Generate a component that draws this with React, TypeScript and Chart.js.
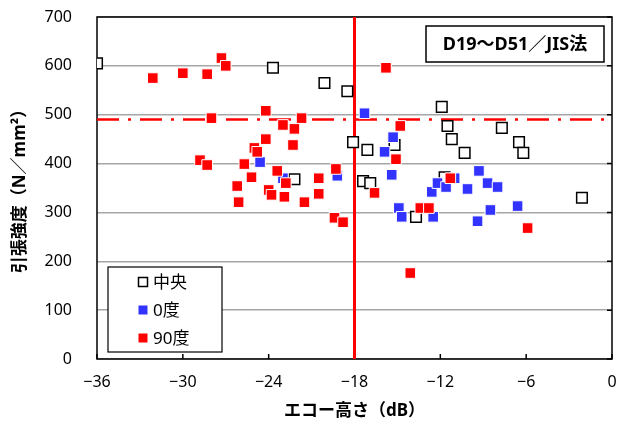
import React, { useEffect, useRef } from 'react';
import { Chart, registerables } from 'chart.js';

Chart.register(...registerables);

// ---- data ----
const centerX = [-36.0, -23.7, -20.1, -18.5, -18.1, -17.1, -17.4, -16.9, -22.2, -15.2, -11.9, -11.5, -11.2, -10.3, -11.7, -13.7, -7.7, -6.5, -6.2, -2.1];
const centerY = [605, 596, 565, 548, 444, 428, 364, 360, 368, 438, 516, 477, 450, 422, 372, 291, 473, 444, 422, 330];

const deg0X = [-24.6, -23.0, -19.2, -17.3, -15.3, -15.9, -15.4, -14.9, -14.7, -12.6, -12.2, -11.6, -11.0, -10.1, -9.3, -8.7, -8.0, -8.5, -9.4, -12.5, -6.6];
const deg0Y = [403, 370, 375, 503, 454, 424, 377, 309, 291, 342, 360, 352, 370, 348, 385, 360, 352, 305, 282, 291, 313];

const deg90X = [-27.3, -27.0, -32.1, -30.0, -28.3, -28.0, -24.2, -21.7, -23.0, -22.2, -24.2, -22.3, -25.0, -24.8, -28.8, -28.3, -25.7, -23.4, -25.2, -22.8, -26.2, -24.0, -23.8, -22.9, -26.1, -21.5, -20.5, -20.5, -19.3, -19.4, -18.8, -16.6, -15.8, -14.8, -15.1, -11.3, -13.4, -12.8, -14.1, -5.9];
const deg90Y = [616, 600, 575, 585, 583, 493, 508, 493, 479, 471, 450, 438, 432, 424, 407, 397, 399, 385, 372, 360, 354, 346, 336, 332, 321, 321, 370, 338, 389, 289, 280, 340, 596, 477, 409, 370, 309, 309, 176, 268];

const seriesNames = ['中央', '0度', '90度'];
const xTicks = [-36, -30, -24, -18, -12, -6, 0];
const yTicks = [0, 100, 200, 300, 400, 500, 600, 700];
const echoLimit = [-18];
const strengthLimit = [490];
const boxTitle = 'D19～D51／JIS法';
const xTitle = 'エコー高さ（dB）';
const yTitle = '引張強度（N／mm²）';

const FONT = '"Noto Sans", "Noto Sans CJK JP", sans-serif';
const RED = '#ff0000';
const BLUE = '#3333ff';

const toPts = (xs: number[], ys: number[]) => xs.map((x, i) => ({ x, y: ys[i] }));
const fmt = (v: number) => (v < 0 ? '\u2212' + Math.abs(v) : String(v));

const decor = {
  id: 'decor',
  beforeDatasetsDraw(chart: any) {
    const { ctx, chartArea: a, scales } = chart;
    ctx.save();
    ctx.strokeStyle = '#000';
    ctx.lineWidth = 1.5;
    ctx.strokeRect(a.left, a.top, a.right - a.left, a.bottom - a.top);
    ctx.beginPath();
    for (const v of xTicks) {
      const x = scales.x.getPixelForValue(v);
      ctx.moveTo(x, a.bottom);
      ctx.lineTo(x, a.bottom - 5);
    }
    for (const v of yTicks) {
      const y = scales.y.getPixelForValue(v);
      ctx.moveTo(a.right, y);
      ctx.lineTo(a.right - 5, y);
    }
    ctx.stroke();
    ctx.restore();
  },
  afterDraw(chart: any) {
    const { ctx, chartArea: a } = chart;
    ctx.save();
    ctx.fillStyle = '#000';
    ctx.font = `bold 17px ${FONT}`;
    ctx.textAlign = 'center';
    ctx.textBaseline = 'middle';
    ctx.fillText(xTitle, (a.left + a.right) / 2, 411);
    ctx.save();
    ctx.translate(20, 187);
    ctx.rotate(-Math.PI / 2);
    ctx.fillText(yTitle, 0, 0);
    ctx.restore();

    // title box
    const bx = 426, by = 26, bw = 178, bh = 36;
    ctx.fillStyle = '#fff';
    ctx.fillRect(bx, by, bw, bh);
    ctx.strokeStyle = '#000';
    ctx.lineWidth = 1.5;
    ctx.strokeRect(bx, by, bw, bh);
    ctx.fillStyle = '#000';
    ctx.font = `bold 18px ${FONT}`;
    ctx.fillText(boxTitle, bx + bw / 2, by + bh / 2 + 1);

    // legend box
    const lx = a.left + 11, ly = 267, lw = 114, lh = 85;
    ctx.fillStyle = '#fff';
    ctx.fillRect(lx, ly, lw, lh);
    ctx.strokeStyle = '#000';
    ctx.lineWidth = 1.2;
    ctx.strokeRect(lx, ly, lw, lh);
    const rows = [282, 310, 338];
    const styles = [
      { fill: '#fff', stroke: '#000' },
      { fill: BLUE, stroke: BLUE },
      { fill: RED, stroke: RED },
    ];
    ctx.font = `17px ${FONT}`;
    ctx.textAlign = 'left';
    rows.forEach((ry, i) => {
      const s = styles[i];
      const mx = lx + 35;
      ctx.fillStyle = s.fill;
      ctx.fillRect(mx - 4.5, ry - 4.5, 9, 9);
      if (i === 0) {
        ctx.strokeStyle = s.stroke;
        ctx.lineWidth = 1.5;
        ctx.strokeRect(mx - 4.5, ry - 4.5, 9, 9);
      }
      ctx.fillStyle = '#000';
      ctx.fillText(seriesNames[i], mx + 10, ry + 1);
    });
    ctx.restore();
  },
};

export default function App() {
  const ref = useRef<HTMLCanvasElement>(null);
  useEffect(() => {
    if (!ref.current) return;
    const chart = new Chart(ref.current, {
      type: 'scatter',
      data: {
        datasets: [
          {
            label: seriesNames[0],
            data: toPts(centerX, centerY),
            pointStyle: 'rect',
            pointRadius: 7.5,
            backgroundColor: '#fff',
            borderColor: '#000',
            borderWidth: 1.5,
            order: 3,
          },
          {
            label: seriesNames[1],
            data: toPts(deg0X, deg0Y),
            pointStyle: 'rect',
            pointRadius: 7.5,
            backgroundColor: BLUE,
            borderColor: '#fff',
            borderWidth: 1,
            order: 2,
          },
          {
            label: seriesNames[2],
            data: toPts(deg90X, deg90Y),
            pointStyle: 'rect',
            pointRadius: 7.5,
            backgroundColor: RED,
            borderColor: '#fff',
            borderWidth: 1,
            order: 1,
          },
          {
            type: 'line',
            label: 'echo',
            data: [{ x: echoLimit[0], y: yTicks[0] }, { x: echoLimit[0], y: yTicks[yTicks.length - 1] }],
            borderColor: RED,
            borderWidth: 3,
            pointRadius: 0,
            order: 10,
          } as any,
          {
            type: 'line',
            label: 'strength',
            data: [{ x: xTicks[0], y: strengthLimit[0] }, { x: xTicks[xTicks.length - 1], y: strengthLimit[0] }],
            borderColor: RED,
            borderWidth: 2.5,
            borderDash: [22, 9, 3, 9],
            pointRadius: 0,
            order: 10,
          } as any,
        ],
      },
      options: {
        animation: false,
        responsive: false,
        devicePixelRatio: 1,
        layout: { padding: { top: 17, right: 12, left: 0, bottom: 0 }, autoPadding: false },
        plugins: { legend: { display: false }, tooltip: { enabled: false } },
        scales: {
          x: {
            type: 'linear',
            min: xTicks[0],
            max: xTicks[xTicks.length - 1],
            afterBuildTicks: (s: any) => { s.ticks = xTicks.map((v) => ({ value: v })); },
            grid: { display: false, drawTicks: false },
            border: { display: false },
            ticks: { color: '#000', font: { family: FONT, size: 16 }, padding: 14, maxRotation: 0, autoSkip: false, callback: (v: any) => fmt(Number(v)) },
            afterFit: (s: any) => { s.height = 67; s.paddingLeft = 0; s.paddingRight = 0; s.paddingTop = 0; s.paddingBottom = 0; },
          },
          y: {
            type: 'linear',
            min: yTicks[0],
            max: yTicks[yTicks.length - 1],
            afterBuildTicks: (s: any) => { s.ticks = yTicks.map((v) => ({ value: v })); },
            grid: { color: '#a6a6a6', lineWidth: 1.5, drawTicks: false },
            border: { display: false },
            ticks: { color: '#000', font: { family: FONT, size: 16 }, padding: 25, autoSkip: false },
            afterFit: (s: any) => { s.width = 97; s.paddingLeft = 0; s.paddingRight = 0; s.paddingTop = 0; s.paddingBottom = 0; },
          },
        },
      },
      plugins: [decor],
    } as any);
    return () => chart.destroy();
  }, []);
  return (
    <div style={{ position: 'fixed', left: 0, top: 0, width: 624, height: 426, background: '#fff' }}>
      <canvas ref={ref} width={624} height={426} style={{ width: 624, height: 426, display: 'block' }} />
    </div>
  );
}
